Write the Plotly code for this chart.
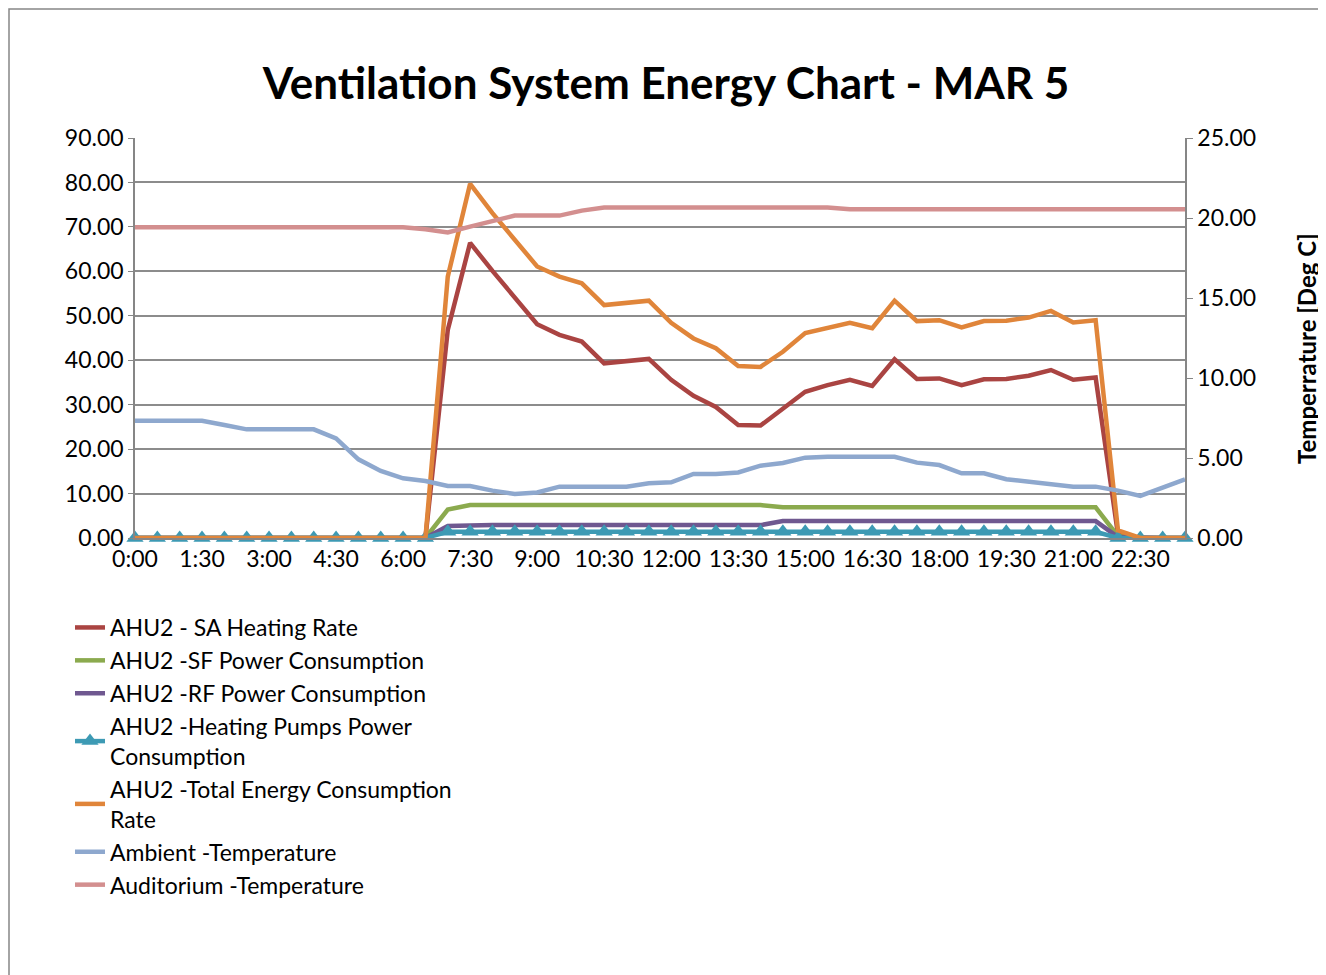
import plotly.graph_objects as go

times = ["0:00","0:30","1:00","1:30","2:00","2:30","3:00","3:30","4:00","4:30","5:00","5:30",
         "6:00","6:30","7:00","7:30","8:00","8:30","9:00","9:30","10:00","10:30","11:00","11:30",
         "12:00","12:30","13:00","13:30","14:00","14:30","15:00","15:30","16:00","16:30","17:00","17:30",
         "18:00","18:30","19:00","19:30","20:00","20:30","21:00","21:30","22:00","22:30","23:00","23:30"]
tick_labels = ["0:00","1:30","3:00","4:30","6:00","7:30","9:00","10:30","12:00","13:30","15:00",
               "16:30","18:00","19:30","21:00","22:30"]

sa_heating = [0,0,0,0,0,0,0,0,0,0,0,0,0,0,46.8,66.4,60.1,54.1,48.1,45.7,44.2,39.3,39.9,40.3,
              35.6,32.0,29.5,25.4,25.3,29.2,32.9,34.4,35.6,34.2,40.2,35.8,35.9,34.4,35.7,35.8,
              36.5,37.8,35.6,36.1,0.8,0,0,0]
sf_power = [0,0,0,0,0,0,0,0,0,0,0,0,0,0,6.4,7.4,7.4,7.4,7.4,7.4,7.4,7.4,7.4,7.4,
            7.4,7.4,7.4,7.4,7.4,6.9,6.9,6.9,6.9,6.9,6.9,6.9,6.9,6.9,6.9,6.9,
            6.9,6.9,6.9,6.9,0.4,0,0,0]
rf_power = [0,0,0,0,0,0,0,0,0,0,0,0,0,0,2.7,2.9,2.9,2.9,2.9,2.9,2.9,2.9,2.9,2.9,
            2.9,2.9,2.9,2.9,2.9,3.8,3.8,3.8,3.8,3.8,3.8,3.8,3.8,3.8,3.8,3.8,
            3.8,3.8,3.8,3.8,0.2,0,0,0]
pumps_power = [0,0,0,0,0,0,0,0,0,0,0,0,0,0,1.4,1.4,1.4,1.4,1.4,1.4,1.4,1.4,1.4,1.4,
               1.4,1.4,1.4,1.4,1.4,1.4,1.4,1.4,1.4,1.4,1.4,1.4,1.4,1.4,1.4,1.4,
               1.4,1.4,1.4,1.4,0,0,0,0]
total_energy = [0,0,0,0,0,0,0,0,0,0,0,0,0,0,58.8,79.7,73.1,67.1,61.1,58.8,57.3,52.4,53.0,53.4,
                48.4,44.9,42.7,38.7,38.5,41.9,46.1,47.3,48.4,47.2,53.4,48.8,49.0,47.4,48.8,48.9,
                49.6,51.1,48.5,49.0,1.7,0,0,0]
ambient_temp = [7.33,7.33,7.33,7.33,7.06,6.79,6.79,6.79,6.79,6.23,4.92,4.19,3.73,3.56,3.25,3.25,
                2.96,2.75,2.85,3.21,3.21,3.21,3.21,3.42,3.48,4.0,4.0,4.1,4.52,4.69,5.02,5.08,
                5.08,5.08,5.08,4.71,4.56,4.04,4.04,3.67,3.52,3.35,3.21,3.21,2.96,2.63,3.17,3.67]
auditorium_temp = [19.42,19.42,19.42,19.42,19.42,19.42,19.42,19.42,19.42,19.42,19.42,19.42,19.42,19.3,19.1,19.46,
                   19.77,20.15,20.15,20.15,20.46,20.65,20.65,20.65,20.65,20.65,20.65,20.65,20.65,20.65,20.65,20.65,
                   20.54,20.54,20.54,20.54,20.54,20.54,20.54,20.54,20.54,20.54,20.54,20.54,20.54,20.54,20.54,20.54]

FONT = "Lato"
x_idx = list(range(len(times)))

fig = go.Figure()
def add(name, y, color, axis="y", marker=False):
    fig.add_trace(go.Scatter(
        x=x_idx, y=y, name=name, yaxis=axis,
        mode="lines+markers" if marker else "lines",
        line=dict(color=color, width=4.5),
        marker=dict(symbol="triangle-up", size=15, color=color) if marker else None,
        cliponaxis=False if marker else True,
    ))

add("AHU2 - SA Heating Rate", sa_heating, "#AA4442")
add("AHU2 -SF Power Consumption", sf_power, "#8BAA4E")
add("AHU2 -RF Power Consumption", rf_power, "#6F5890")
add("AHU2 -Heating Pumps Power<br>Consumption", pumps_power, "#3D9AB4", marker=True)
add("AHU2 -Total Energy Consumption<br>Rate", total_energy, "#E0853A")
add("Ambient -Temperature", ambient_temp, "#8EA8CE", axis="y2")
add("Auditorium -Temperature", auditorium_temp, "#D38F8F", axis="y2")

# page body has an 8px margin; compensate so pixel positions match
OFF = 8
W, H = 1326, 975
L, R, T, B = 135, 1185, 138, 538
def px(x): return (x - L) / (R - L)
def py(y): return (B - y) / (B - T)

fig.update_layout(
    width=W - OFF, height=H - OFF,
    margin=dict(l=L - OFF, r=W - R, t=T - OFF, b=H - B),
    paper_bgcolor="white", plot_bgcolor="white",
    font=dict(family=FONT, size=23, color="black"),
    title=dict(text="<b>Ventilation System Energy Chart - MAR 5</b>",
               font=dict(family=FONT, size=44, color="black"),
               x=(666 - OFF) / (W - OFF), xref="container", xanchor="center",
               y=1 - (84 - OFF) / (H - OFF), yref="container", yanchor="middle"),
    xaxis=dict(range=[0, len(times) - 1], tickmode="array",
               tickvals=[times.index(t) for t in tick_labels], ticktext=tick_labels,
               showgrid=False, showline=True, linecolor="#868686", linewidth=1.5,
               ticks="", tickfont=dict(size=23), zeroline=False),
    yaxis=dict(range=[0, 90], dtick=10, tickformat=".2f", showgrid=True,
               gridcolor="#8C8C8C", gridwidth=1.5, showline=True, linecolor="#868686",
               linewidth=1.5, ticks="outside", ticklen=5, tickcolor="#868686",
               zeroline=False, tickfont=dict(size=23)),
    yaxis2=dict(range=[0, 25], dtick=5, tickformat=".2f", overlaying="y", side="right",
                showgrid=False, showline=True, linecolor="#868686", linewidth=1.5,
                ticks="outside", ticklen=6, tickcolor="#868686", zeroline=False,
                tickfont=dict(size=23)),
    legend=dict(x=px(70), y=py(606), xanchor="left", yanchor="top",
                font=dict(size=23), tracegroupgap=0, bgcolor="rgba(0,0,0,0)"),
    showlegend=True,
    annotations=[dict(text="<b>Temperrature [Deg C]</b>", textangle=-90,
                      x=px(1306), y=py(349), xref="paper", yref="paper",
                      xanchor="center", yanchor="middle", showarrow=False,
                      font=dict(family=FONT, size=24, color="black"))],
    shapes=[dict(type="rect", xref="paper", yref="paper",
                 x0=px(9), x1=px(1340), y0=py(990), y1=py(9),
                 line=dict(color="#868686", width=1.5), fillcolor="rgba(0,0,0,0)", layer="below")],
)

fig.write_html("out.html")
